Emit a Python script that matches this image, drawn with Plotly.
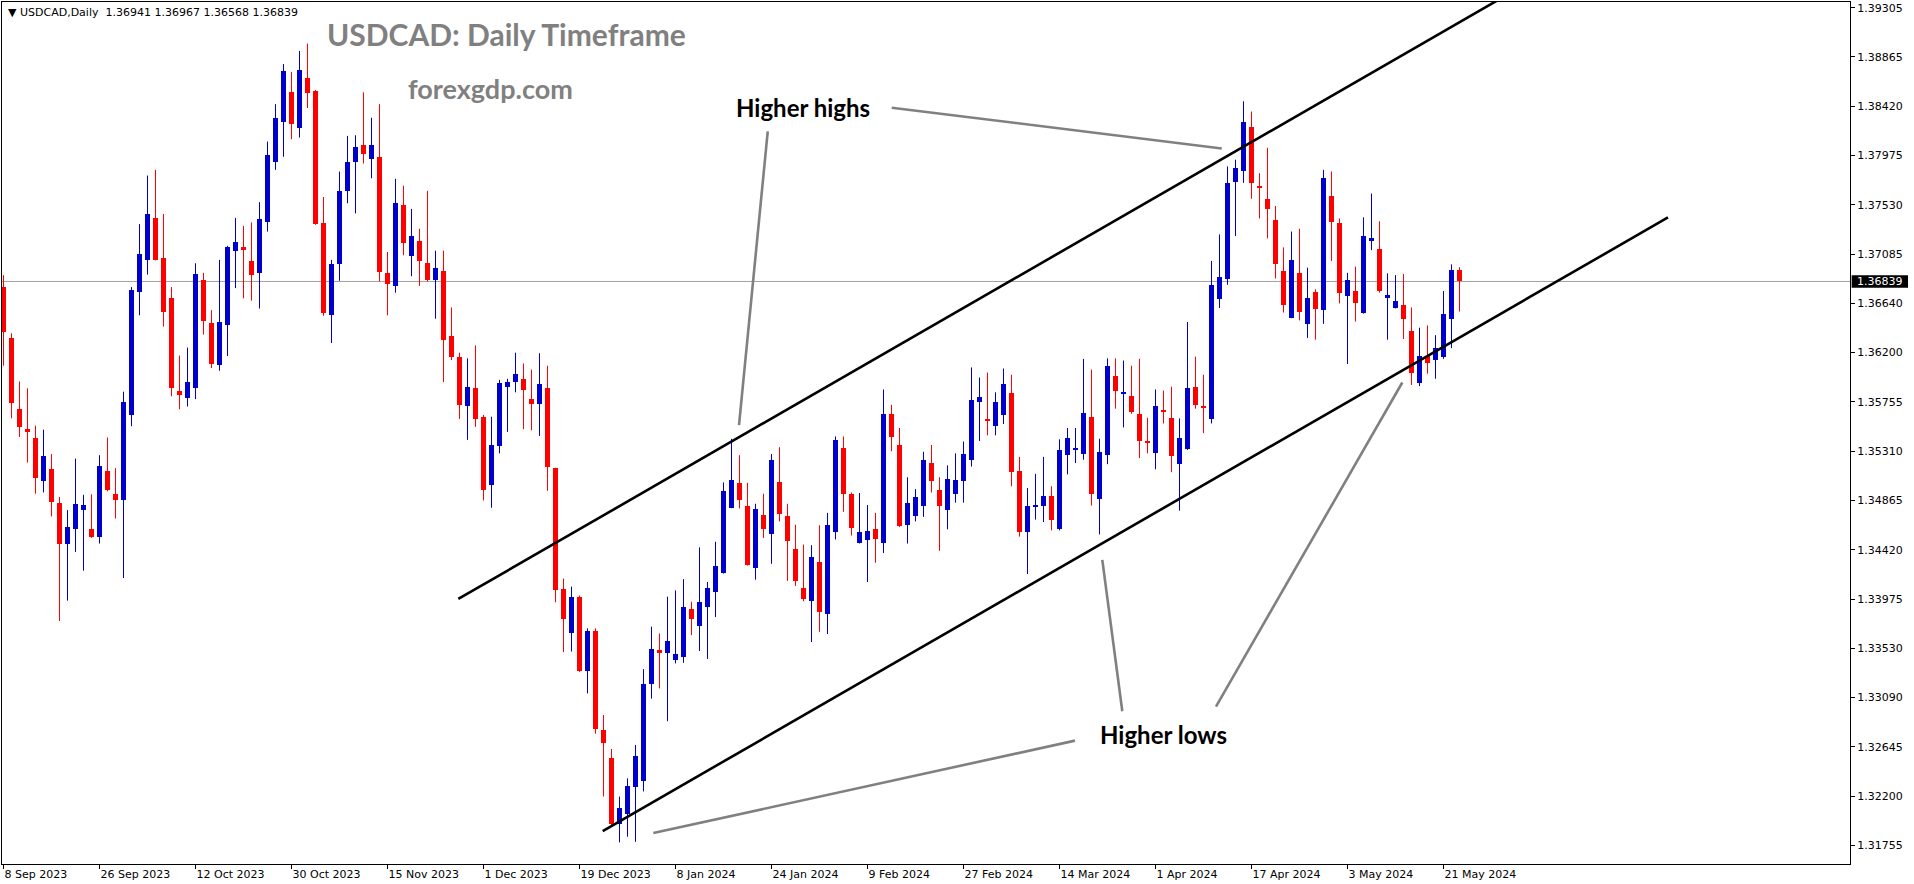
import plotly.graph_objects as go
import pandas as pd

# ---------------- data ----------------
header_text = "USDCAD,Daily  1.36941 1.36967 1.36568 1.36839"
title_text = "USDCAD: Daily Timeframe"
site_text = "forexgdp.com"

dates = pd.bdate_range("2023-09-08", "2024-05-23")
dates = dates[~dates.isin(pd.to_datetime(["2023-12-25", "2024-01-01"]))]

opens = [1.36789, 1.36325, 1.35692, 1.35513, 1.35432, 1.35039, 1.35151, 1.34840, 1.34477, 1.34610,
         1.34783, 1.34610, 1.34539, 1.35130, 1.34926, 1.34865, 1.35636, 1.36748, 1.37029, 1.37412,
         1.37049, 1.36687, 1.35855, 1.35789, 1.35881, 1.36850, 1.36462, 1.36085, 1.36447, 1.37110,
         1.37151, 1.37024, 1.36912, 1.37371, 1.37917, 1.38279, 1.38544, 1.38223, 1.38677, 1.38560,
         1.37362, 1.36539, 1.36993, 1.37651, 1.37917, 1.38070, 1.37942, 1.37958, 1.36917, 1.36794,
         1.37529, 1.37065, 1.37202, 1.37003, 1.36855, 1.36932, 1.36345, 1.36156, 1.35717, 1.35876,
         1.35615, 1.35008, 1.35355, 1.35886, 1.35932, 1.35957, 1.35784, 1.35733, 1.35881, 1.35156,
         1.34064, 1.33671, 1.33998, 1.33324, 1.33686, 1.32793, 1.32543, 1.31951, 1.32043, 1.32283,
         1.32334, 1.33207, 1.33513, 1.33487, 1.33426, 1.33452, 1.33891, 1.33732, 1.33906, 1.34038,
         1.34212, 1.34799, 1.35023, 1.34814, 1.34258, 1.34732, 1.34559, 1.35034, 1.34722, 1.34426,
         1.34079, 1.33962, 1.34309, 1.33840, 1.34584, 1.35340, 1.34921, 1.34482, 1.34513, 1.34605,
         1.34482, 1.35646, 1.35365, 1.34641, 1.34727, 1.34819, 1.35202, 1.34957, 1.34783, 1.34926,
         1.35039, 1.35227, 1.35753, 1.35600, 1.35534, 1.35636, 1.35835, 1.35130, 1.34579, 1.34814,
         1.34819, 1.34901, 1.34605, 1.35278, 1.35325, 1.35283, 1.35620, 1.34881, 1.35278, 1.35983,
         1.35825, 1.35809, 1.35646, 1.35401, 1.35289, 1.35682, 1.35610, 1.35192, 1.35325, 1.35886,
         1.35717, 1.35600, 1.36682, 1.36860, 1.37733, 1.37835, 1.38228, 1.37702, 1.37585, 1.37396,
         1.36932, 1.36513, 1.36917, 1.36457, 1.36748, 1.36585, 1.37611, 1.37366, 1.36707, 1.36753,
         1.36554, 1.37202, 1.37131, 1.36687, 1.36600, 1.36626, 1.36396, 1.35927, 1.36171, 1.36131,
         1.36161, 1.36503, 1.36941]

highs = [1.36896, 1.36371, 1.35937, 1.35876, 1.35539, 1.35503, 1.35283, 1.34896, 1.34778, 1.35243,
         1.34916, 1.34921, 1.35273, 1.35432, 1.35156, 1.35845, 1.36789, 1.37356, 1.37794, 1.37845,
         1.37447, 1.36789, 1.36171, 1.36243, 1.37003, 1.36917, 1.36580, 1.37034, 1.37160, 1.37412,
         1.37340, 1.37371, 1.37554, 1.38100, 1.38437, 1.38799, 1.38728, 1.38917, 1.38983, 1.38565,
         1.37600, 1.37034, 1.37830, 1.38151, 1.38157, 1.38544, 1.38315, 1.38437, 1.37105, 1.37764,
         1.37702, 1.37493, 1.37314, 1.37656, 1.37116, 1.37116, 1.36605, 1.36197, 1.36146, 1.36263,
         1.35636, 1.35620, 1.35952, 1.35962, 1.36197, 1.36100, 1.36044, 1.36192, 1.36080, 1.35160,
         1.34161, 1.34089, 1.34008, 1.33712, 1.33712, 1.32931, 1.32625, 1.32196, 1.32360, 1.32661,
         1.33345, 1.33727, 1.33666, 1.33998, 1.34054, 1.34156, 1.33952, 1.34442, 1.34130, 1.34493,
         1.35028, 1.35421, 1.35273, 1.35023, 1.34835, 1.34926, 1.35283, 1.35345, 1.34835, 1.34646,
         1.34467, 1.34462, 1.34641, 1.34753, 1.35442, 1.35442, 1.34937, 1.34932, 1.34824, 1.34753,
         1.35865, 1.35727, 1.35518, 1.35074, 1.34967, 1.35304, 1.35365, 1.35074, 1.35181, 1.35289,
         1.35396, 1.36064, 1.35973, 1.36018, 1.35840, 1.36054, 1.35998, 1.35258, 1.34977, 1.35105,
         1.35258, 1.34993, 1.35416, 1.35518, 1.35518, 1.36141, 1.36044, 1.35421, 1.36146, 1.36146,
         1.36126, 1.36080, 1.36141, 1.35610, 1.35865, 1.35855, 1.35891, 1.35605, 1.36473, 1.36161,
         1.35998, 1.37024, 1.37263, 1.37876, 1.37937, 1.38463, 1.38371, 1.37815, 1.38044, 1.37519,
         1.37146, 1.37289, 1.37314, 1.36963, 1.36768, 1.37845, 1.37830, 1.37407, 1.36917, 1.36973,
         1.37417, 1.37631, 1.37381, 1.36912, 1.36896, 1.36906, 1.36605, 1.36422, 1.36442, 1.36355,
         1.36753, 1.36993, 1.36967]

lows = [1.36080, 1.35605, 1.35437, 1.35207, 1.34926, 1.34937, 1.34722, 1.33778, 1.33962, 1.34401,
        1.34232, 1.34528, 1.34477, 1.34947, 1.34702, 1.34166, 1.35534, 1.36534, 1.36901, 1.37029,
        1.36432, 1.35804, 1.35687, 1.35712, 1.35778, 1.36360, 1.36059, 1.36034, 1.36166, 1.36779,
        1.36687, 1.36666, 1.36595, 1.37289, 1.37845, 1.37963, 1.38121, 1.38136, 1.38402, 1.37350,
        1.36529, 1.36284, 1.36845, 1.37544, 1.37452, 1.37902, 1.37769, 1.36840, 1.36534, 1.36738,
        1.37075, 1.36886, 1.36799, 1.36840, 1.36503, 1.35932, 1.36131, 1.35600, 1.35411, 1.35529,
        1.34865, 1.34799, 1.35289, 1.35483, 1.35840, 1.35508, 1.35498, 1.35447, 1.34952, 1.33947,
        1.33498, 1.33503, 1.33320, 1.33125, 1.32763, 1.32196, 1.31940, 1.31783, 1.31834, 1.31788,
        1.32242, 1.33079, 1.33171, 1.32875, 1.33396, 1.33401, 1.33651, 1.33508, 1.33436, 1.33814,
        1.34205, 1.34795, 1.34794, 1.34278, 1.34151, 1.34528, 1.34294, 1.34676, 1.34140, 1.34095,
        1.33957, 1.33589, 1.33681, 1.33661, 1.34513, 1.34763, 1.34549, 1.34477, 1.34130, 1.34304,
        1.34391, 1.35309, 1.34625, 1.34477, 1.34676, 1.34717, 1.34937, 1.34411, 1.34605, 1.34845,
        1.34845, 1.35171, 1.35401, 1.35452, 1.35452, 1.35554, 1.34993, 1.34539, 1.34202, 1.34692,
        1.34671, 1.34595, 1.34595, 1.35100, 1.35202, 1.35232, 1.34819, 1.34559, 1.35192, 1.35692,
        1.35523, 1.35646, 1.35248, 1.35289, 1.35146, 1.35559, 1.35120, 1.34773, 1.35320, 1.35692,
        1.35472, 1.35559, 1.36600, 1.36809, 1.37248, 1.37728, 1.37585, 1.37407, 1.37228, 1.36866,
        1.36559, 1.36508, 1.36488, 1.36330, 1.36314, 1.36457, 1.37024, 1.36641, 1.36095, 1.36478,
        1.36549, 1.37121, 1.36738, 1.36314, 1.36595, 1.36320, 1.35906, 1.35896, 1.36008, 1.35962,
        1.36141, 1.36238, 1.36568]

closes = [1.36386, 1.35743, 1.35523, 1.35483, 1.35064, 1.35268, 1.34855, 1.34477, 1.34625, 1.34835,
          1.34824, 1.34539, 1.35176, 1.34957, 1.34865, 1.35748, 1.36758, 1.37085, 1.37447, 1.37034,
          1.36564, 1.35881, 1.35820, 1.35937, 1.36906, 1.36483, 1.36095, 1.36473, 1.37151, 1.37197,
          1.37126, 1.36901, 1.37401, 1.37983, 1.38310, 1.38733, 1.38259, 1.38743, 1.38539, 1.37361,
          1.36559, 1.36998, 1.37656, 1.37917, 1.38055, 1.37988, 1.38065, 1.36922, 1.36819, 1.37549,
          1.37182, 1.37248, 1.37019, 1.36855, 1.36957, 1.36314, 1.36156, 1.35722, 1.35886, 1.35600,
          1.34962, 1.35365, 1.35922, 1.35937, 1.36008, 1.35860, 1.35733, 1.35911, 1.35171, 1.34059,
          1.33799, 1.33993, 1.33324, 1.33686, 1.32809, 1.32676, 1.31946, 1.32089, 1.32288, 1.32559,
          1.33212, 1.33528, 1.33487, 1.33600, 1.33477, 1.33901, 1.33799, 1.33947, 1.34074, 1.34273,
          1.34952, 1.35049, 1.34865, 1.34284, 1.34788, 1.34610, 1.35232, 1.34743, 1.34503, 1.34140,
          1.33977, 1.34355, 1.33860, 1.34646, 1.35411, 1.34921, 1.34620, 1.34579, 1.34590, 1.34518,
          1.35646, 1.35437, 1.34635, 1.34845, 1.34896, 1.35232, 1.35044, 1.34819, 1.35059, 1.35049,
          1.35283, 1.35773, 1.35794, 1.35590, 1.35748, 1.35911, 1.35125, 1.34579, 1.34814, 1.34824,
          1.34906, 1.34692, 1.35319, 1.35432, 1.35340, 1.35656, 1.34921, 1.35304, 1.36075, 1.35850,
          1.35840, 1.35666, 1.35401, 1.35386, 1.35712, 1.35666, 1.35263, 1.35432, 1.35881, 1.35722,
          1.35707, 1.36804, 1.36876, 1.37728, 1.37866, 1.38279, 1.37723, 1.37677, 1.37488, 1.36993,
          1.36631, 1.37034, 1.36564, 1.36687, 1.36595, 1.37774, 1.37371, 1.36738, 1.36850, 1.36646,
          1.37248, 1.37228, 1.36753, 1.36717, 1.36661, 1.36503, 1.36013, 1.36171, 1.36105, 1.36243,
          1.36544, 1.36942, 1.36839]

price_ticks = [1.39305, 1.38865, 1.38420, 1.37975, 1.37530, 1.37085, 1.36640, 1.36200, 1.35755,
               1.35310, 1.34865, 1.34420, 1.33975, 1.33530, 1.33090, 1.32645, 1.32200, 1.31755]

# channel lines: (bar index, price)
upper_channel_x = [56.85, 190.0]
upper_channel_y = [1.33977, 1.39508]
lower_channel_x = [74.9, 208.06]
lower_channel_y = [1.31885, 1.37416]

# grey pointer lines: (x0, y0, x1, y1) in bar index / price
pointer_lines = [
    (95.53, 1.38191, 91.94, 1.35545),
    (111.03, 1.38405, 152.28, 1.38038),
    (133.94, 1.32700, 81.23, 1.31867),
    (139.85, 1.32965, 137.35, 1.34329),
    (151.56, 1.33006, 174.85, 1.35928),
]
labels = [("Higher highs", 99.9, 1.38405), ("Higher lows", 145.06, 1.32759)]

# ---------------- figure ----------------
RED = "#FF0000"
BLUE = "#0000CD"
n = len(dates)
xs = list(range(n))
fig = go.Figure()

for is_up, color in [(True, BLUE), (False, RED)]:
    idx = [i for i in xs if (closes[i] >= opens[i]) == is_up]
    wx, wy = [], []
    for i in idx:
        wx += [i, i, None]
        wy += [lows[i], highs[i], None]
    fig.add_trace(go.Scatter(x=wx, y=wy, mode="lines", line=dict(color=color, width=1),
                             hoverinfo="skip"))
    fig.add_trace(go.Bar(
        x=idx,
        base=[min(opens[i], closes[i]) for i in idx],
        y=[max(abs(closes[i] - opens[i]), 0.0001) for i in idx],
        width=0.625, marker=dict(color=color, line=dict(width=0)),
    ))

fig.add_trace(go.Scatter(x=upper_channel_x, y=upper_channel_y, mode="lines",
                         line=dict(color="black", width=2.6)))
fig.add_trace(go.Scatter(x=lower_channel_x, y=lower_channel_y, mode="lines",
                         line=dict(color="black", width=2.6)))

shapes = []
for x0, y0, x1, y1 in pointer_lines:
    shapes.append(dict(type="line", xref="x", yref="y", x0=x0, y0=y0, x1=x1, y1=y1,
                       line=dict(color="#808080", width=2.6)))
last_close = closes[-1]
shapes.append(dict(type="line", xref="paper", yref="y", x0=0, x1=1, y0=last_close, y1=last_close,
                   line=dict(color="#A0A0A0", width=1), layer="below"))
shapes.append(dict(type="rect", xref="paper", yref="y", x0=1.0009, x1=1.0314,
                   y0=last_close - 0.00057, y1=last_close + 0.00056,
                   fillcolor="black", line=dict(width=0)))

annotations = [
    dict(xref="paper", yref="paper", x=0.0022, y=0.9878, xanchor="left", yanchor="middle",
         text="▼ " + header_text, showarrow=False,
         font=dict(family="DejaVu Sans", size=11, color="black")),
    dict(xref="x", yref="y", x=62.9, y=1.39070, text="<b>" + title_text + "</b>", showarrow=False,
         font=dict(family="Lato", size=30, color="#808080", weight=900)),
    dict(xref="x", yref="y", x=60.9, y=1.38574, text="<b>" + site_text + "</b>", showarrow=False,
         font=dict(family="Lato", size=27, color="#808080", weight=900)),
    dict(xref="paper", yref="y", x=1, xanchor="left", xshift=5, y=last_close,
         text=f"{last_close:.5f}", showarrow=False,
         font=dict(family="DejaVu Sans", size=11, color="white")),
]
for t, x, y in labels:
    annotations.append(dict(xref="x", yref="y", x=x, y=y, text="<b>" + t + "</b>", showarrow=False,
                            font=dict(family="Lato", size=24, color="black", weight=900)))

tick_idx = list(range(0, n, 12))
tick_txt = [f"{dates[i].day} {dates[i]:%b %Y}" for i in tick_idx]

fig.update_layout(
    width=1914, height=884,
    margin=dict(l=2, r=64, t=2, b=20),
    paper_bgcolor="white", plot_bgcolor="white",
    showlegend=False, barmode="overlay", bargap=0,
    shapes=shapes, annotations=annotations,
    xaxis=dict(range=[-0.1875, 230.8125], tickmode="array", tickvals=tick_idx, ticktext=tick_txt,
               showgrid=False, zeroline=False, showline=True, linecolor="black", linewidth=1,
               mirror=True, ticks="outside", ticklen=4, tickcolor="black",
               ticklabelposition="outside right",
               tickfont=dict(family="DejaVu Sans", size=11, color="black"), fixedrange=True),
    yaxis=dict(range=[1.31588, 1.39358], side="right", tickmode="array", tickvals=price_ticks,
               ticktext=[f"{v:.5f}" for v in price_ticks],
               showgrid=False, zeroline=False, showline=True, linecolor="black", linewidth=1,
               mirror=True, ticks="outside", ticklen=4, tickcolor="black",
               tickfont=dict(family="DejaVu Sans", size=11, color="black"), fixedrange=True),
)

fig.write_html("out.html")
